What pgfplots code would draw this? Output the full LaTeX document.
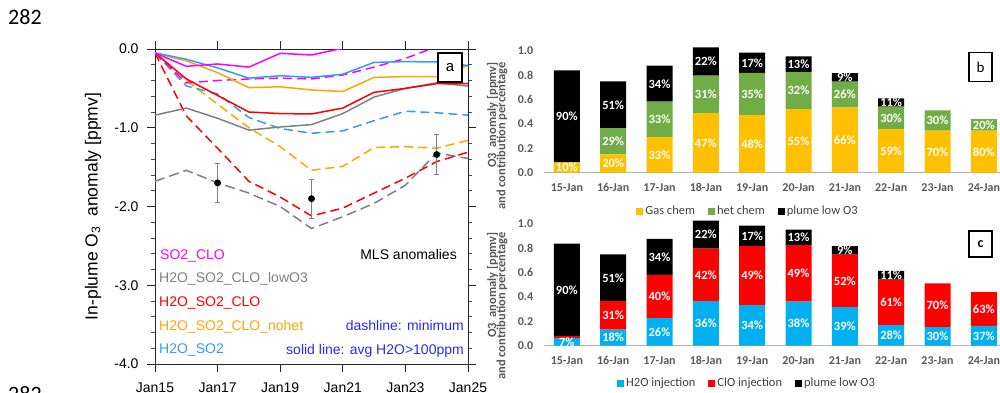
\documentclass[border=0pt]{standalone}
\usepackage{fontspec}
\setmainfont{Liberation Sans}
\newfontfamily\carlito{Carlito}
\usepackage{pgfplots}
\pgfplotsset{compat=1.18}
\definecolor{cmag}{RGB}{255,0,255}
\definecolor{cgray}{RGB}{128,128,128}
\definecolor{cred}{RGB}{255,0,0}
\definecolor{corange}{RGB}{255,165,0}
\definecolor{cblue}{RGB}{51,153,255}
\definecolor{ctxtblue}{RGB}{40,40,255}
\definecolor{byellow}{RGB}{255,192,0}
\definecolor{bgreen}{RGB}{112,173,71}
\definecolor{bblue}{RGB}{0,176,240}
\definecolor{tgray}{RGB}{89,89,89}
\definecolor{lgray}{RGB}{64,64,64}
\newcommand\fa{\fontsize{14}{16}\selectfont}
\newcommand\fb{\carlito\bfseries\fontsize{12}{13}\selectfont}
\newcommand\fc{\carlito\bfseries\fontsize{12.5}{13}\selectfont}
\pgfplotsset{
  barpanel/.style={
    anchor=south west, scale only axis, width=463.3pt, height=127.8pt,
    xmin=-0.5, xmax=9.5, ymin=0, ymax=1.05, clip=false},
  barbase/.style={
    barpanel, ybar stacked, bar width=26pt,
    axis x line*=bottom, axis y line*=left,
    y axis line style={draw=none}, x axis line style={draw=black!30, line width=0.9pt, -},
    xtick={0,1,2,3,4,5,6,7,8,9},
    xticklabels={15-Jan,16-Jan,17-Jan,18-Jan,19-Jan,20-Jan,21-Jan,22-Jan,23-Jan,24-Jan},
    ytick={0,0.2,0.4,0.6,0.8,1}, yticklabels={0.0,0.2,0.4,0.6,0.8,1.0},
    major tick length=0pt, tick style={draw=none},
    ticklabel style={font=\fb, text=tgray},
    xticklabel style={yshift=-7pt}, yticklabel style={xshift=-7pt},
    legend columns=3,
    legend image code/.code={\fill[##1] (0pt,-3.5pt) rectangle (7pt,3.5pt);},
  },
  barlabels/.style={draw=none, mark=none, nodes near coords, point meta=explicit symbolic,
    every node near coord/.append style={anchor=center, text=white, font=\fc, inner sep=0pt}},
}
\begin{document}
\begin{tikzpicture}
\useasboundingbox (0,0) rectangle (1000pt,392pt);
% ---------------- panel a ----------------
\begin{axis}[at={(155pt,28pt)}, anchor=south west, scale only axis, width=313pt, height=315pt,
 xmin=15, xmax=25, ymin=-4, ymax=0,
 xtick={15,17,19,21,23,25}, xticklabels={Jan15,Jan17,Jan19,Jan21,Jan23,Jan25},
 ytick={-4,-3,-2,-1,0}, yticklabels={-4.0,-3.0,-2.0,-1.0,0.0},
 minor y tick num=4,
 tick align=outside, tick pos=both,
 major tick length=8pt, minor tick length=4pt,
 axis line style={line width=1pt, black!85},
 major tick style={line width=1pt, black!85},
 minor tick style={line width=0.7pt, black!70},
 ticklabel style={font=\fa},
 yticklabel style={xshift=-5pt},
 xticklabel style={yshift=-7pt},
 every axis plot/.append style={line width=1.5pt},
]
% dashed: minimum
\addplot[cgray, dash pattern=on 10pt off 5pt] coordinates {(15,-1.68) (16,-1.54) (17,-1.70) (18,-1.83) (19,-2.00) (20,-2.28) (21,-2.13) (22,-1.96) (23,-1.73) (24,-1.32) (25,-1.39)};
\addplot[cred, dash pattern=on 9pt off 5pt] coordinates {(15,-0.05) (16,-0.85) (17,-1.26) (18,-1.68) (19,-1.88) (20,-2.12) (21,-2.02) (22,-1.83) (23,-1.64) (24,-1.43) (25,-1.31)};
\addplot[corange, dash pattern=on 9pt off 5pt] coordinates {(15,-0.05) (16,-0.40) (17,-0.70) (18,-1.00) (19,-1.24) (20,-1.54) (21,-1.49) (22,-1.25) (23,-1.24) (24,-1.26) (25,-1.16)};
\addplot[cblue, dash pattern=on 9pt off 5pt] coordinates {(15,-0.05) (16,-0.47) (17,-0.57) (18,-0.87) (19,-1.01) (20,-1.07) (21,-1.04) (22,-0.91) (23,-0.79) (24,-0.81) (25,-0.84)};
\addplot[cmag, dash pattern=on 9pt off 5pt] coordinates {(15,-0.05) (16,-0.43) (17,-0.40) (18,-0.38) (19,-0.37) (20,-0.38) (21,-0.33) (22,-0.23) (23,-0.12) (24,0.03) (25,0.1)};
% solid: average
\addplot[cgray] coordinates {(15,-0.84) (16,-0.75) (17,-0.88) (18,-1.03) (19,-0.99) (20,-0.96) (21,-0.82) (22,-0.61) (23,-0.50) (24,-0.43) (25,-0.47)};
\addplot[cred] coordinates {(15,-0.05) (16,-0.38) (17,-0.59) (18,-0.80) (19,-0.82) (20,-0.825) (21,-0.75) (22,-0.55) (23,-0.50) (24,-0.44) (25,-0.44)};
\addplot[corange] coordinates {(15,-0.05) (16,-0.15) (17,-0.30) (18,-0.49) (19,-0.48) (20,-0.52) (21,-0.54) (22,-0.36) (23,-0.35) (24,-0.35) (25,-0.21)};
\addplot[cblue] coordinates {(15,-0.05) (16,-0.13) (17,-0.24) (18,-0.37) (19,-0.34) (20,-0.36) (21,-0.32) (22,-0.17) (23,-0.16) (24,-0.165) (25,-0.21)};
\addplot[cmag] coordinates {(15,-0.05) (16,-0.22) (17,-0.19) (18,-0.23) (19,-0.055) (20,-0.076) (21,0.01) (22,0.05) (23,0.08) (24,0.1) (25,0.1)};
% MLS anomalies
\addplot[only marks, mark=*, mark size=3pt, black, line width=0.8pt,
  error bars/.cd, y dir=both, y explicit,
  error bar style={gray, line width=0.8pt},
  error mark options={rotate=90, gray, mark size=2.5pt, line width=0.8pt}]
  coordinates {(17,-1.70) +- (0,0.25) (20,-1.90) +- (0,0.25) (24,-1.34) +- (0,0.25)};
\end{axis}
\node[rotate=90, font=\fontsize{17.5}{18}\selectfont] at (93pt,185.5pt) {In-plume O\textsubscript{3}\ \ anomaly [ppmv]};
\node[draw, fill=white, line width=1.5pt, minimum width=24pt, minimum height=29pt, inner sep=0pt, font=\fontsize{15}{16}\selectfont] at (450pt,324.5pt) {a};
\begin{scope}[every node/.style={inner sep=0pt, font=\fa}]
\node[anchor=base west, text=cmag] at (160pt,133pt) {SO2\_CLO};
\node[anchor=base west, text=cgray] at (159pt,109.5pt) {H2O\_SO2\_CLO\_lowO3};
\node[anchor=base west, text=cred] at (159pt,86pt) {H2O\_SO2\_CLO};
\node[anchor=base west, text=corange] at (159pt,62pt) {H2O\_SO2\_CLO\_nohet};
\node[anchor=base west, text=cblue] at (159pt,38.5pt) {H2O\_SO2};
\node[anchor=base east, text=black] at (457pt,132.7pt) {MLS anomalies};
\node[anchor=base east, text=ctxtblue] at (464pt,62pt) {dashline: minimum};
\node[anchor=base east, text=ctxtblue] at (464pt,38pt) {solid line: avg H2O>100ppm};
\end{scope}
% page line numbers
\node[anchor=base west, inner sep=0pt, font=\carlito\fontsize{22}{24}\selectfont] at (8pt,367pt) {282};
\node[anchor=base west, inner sep=0pt, font=\carlito\fontsize{22}{24}\selectfont] at (8pt,-9pt) {282};
% ---------------- panel b ----------------
\begin{axis}[barbase, at={(543.7pt,219.3pt)},
  legend style={at={(0.441,-0.30)}, anchor=center, draw=none, fill=none, font=\carlito\fontsize{12.5}{13}\selectfont, text=lgray,
    /tikz/every even column/.append style={column sep=11pt}}]
\addplot[fill=byellow, draw=none] coordinates {(0,0.084) (1,0.15) (2,0.293) (3,0.49) (4,0.474) (5,0.523) (6,0.537) (7,0.359) (8,0.345) (9,0.345)};
\addlegendentry{Gas chem}
\addplot[fill=bgreen, draw=none] coordinates {(0,0) (1,0.217) (2,0.291) (3,0.307) (4,0.346) (5,0.304) (6,0.211) (7,0.183) (8,0.167) (9,0.096)};
\addlegendentry{het chem}
\addplot[fill=black, draw=none] coordinates {(0,0.756) (1,0.383) (2,0.296) (3,0.233) (4,0.166) (5,0.129) (6,0.071) (7,0.069) (8,0) (9,0)};
\addlegendentry{plume low O3}
\end{axis}
\begin{axis}[barpanel, at={(543.7pt,219.3pt)}, hide axis]
\addplot[barlabels] coordinates {
 (0,0.042) [10\%] (0,0.462) [90\%]
 (1,0.075) [20\%] (1,0.26) [29\%] (1,0.558) [51\%]
 (2,0.146) [33\%] (2,0.44) [33\%] (2,0.73) [34\%]
 (3,0.245) [47\%] (3,0.643) [31\%] (3,0.913) [22\%]
 (4,0.237) [48\%] (4,0.647) [35\%] (4,0.903) [17\%]
 (5,0.262) [55\%] (5,0.675) [32\%] (5,0.89) [13\%]
 (6,0.268) [66\%] (6,0.642) [26\%] (6,0.783) [9\%]
 (7,0.18) [59\%] (7,0.45) [30\%] (7,0.576) [11\%]
 (8,0.172) [70\%] (8,0.428) [30\%]
 (9,0.172) [80\%] (9,0.393) [20\%]
};
\end{axis}
% ---------------- panel c ----------------
\begin{axis}[barbase, at={(543.7pt,46.3pt)},
  legend style={at={(0.439,-0.292)}, anchor=center, draw=none, fill=none, font=\carlito\fontsize{12.5}{13}\selectfont, text=lgray,
    /tikz/every even column/.append style={column sep=11pt}}]
\addplot[fill=bblue, draw=none] coordinates {(0,0.063) (1,0.132) (2,0.227) (3,0.367) (4,0.334) (5,0.362) (6,0.318) (7,0.17) (8,0.153) (9,0.162)};
\addlegendentry{H2O injection}
\addplot[fill=cred, draw=none] coordinates {(0,0.016) (1,0.235) (2,0.354) (3,0.43) (4,0.485) (5,0.465) (6,0.43) (7,0.372) (8,0.359) (9,0.279)};
\addlegendentry{ClO injection}
\addplot[fill=black, draw=none] coordinates {(0,0.759) (1,0.383) (2,0.296) (3,0.23) (4,0.167) (5,0.126) (6,0.071) (7,0.072) (8,0) (9,0)};
\addlegendentry{plume low O3}
\end{axis}
\begin{axis}[barpanel, at={(543.7pt,46.3pt)}, hide axis]
\addplot[barlabels] coordinates {
 (0,0.03) [7\%] (0,0.458) [90\%]
 (1,0.066) [18\%] (1,0.25) [31\%] (1,0.558) [51\%]
 (2,0.113) [26\%] (2,0.404) [40\%] (2,0.729) [34\%]
 (3,0.183) [36\%] (3,0.582) [42\%] (3,0.912) [22\%]
 (4,0.167) [34\%] (4,0.577) [49\%] (4,0.903) [17\%]
 (5,0.181) [38\%] (5,0.595) [49\%] (5,0.89) [13\%]
 (6,0.159) [39\%] (6,0.533) [52\%] (6,0.784) [9\%]
 (7,0.085) [28\%] (7,0.356) [61\%] (7,0.578) [11\%]
 (8,0.077) [30\%] (8,0.333) [70\%]
 (9,0.081) [37\%] (9,0.30) [63\%]
};
\end{axis}
% panel labels b, c
\node[draw, line width=1.2pt, minimum width=23pt, minimum height=29pt, inner sep=0pt, font=\carlito\fontsize{15}{16}\selectfont] at (980.5pt,325pt) {b};
\node[draw, line width=1.2pt, minimum width=23pt, minimum height=26pt, inner sep=0pt, font=\carlito\bfseries\fontsize{14}{15}\selectfont] at (980.5pt,148pt) {c};
% y labels of b and c
\begin{scope}[every node/.style={rotate=90, anchor=east, inner sep=0pt, font=\carlito\bfseries\fontsize{12.5}{13}\selectfont, text=tgray}]
\node at (492.5pt,330pt) {O3\ \ anomaly [ppmv]};
\node at (502pt,330pt) {and contribution percentage};
\node at (492.5pt,160pt) {O3\ \ anomaly [ppmv]};
\node at (502pt,160pt) {and contribution percentage};
\end{scope}
\end{tikzpicture}
\end{document}
